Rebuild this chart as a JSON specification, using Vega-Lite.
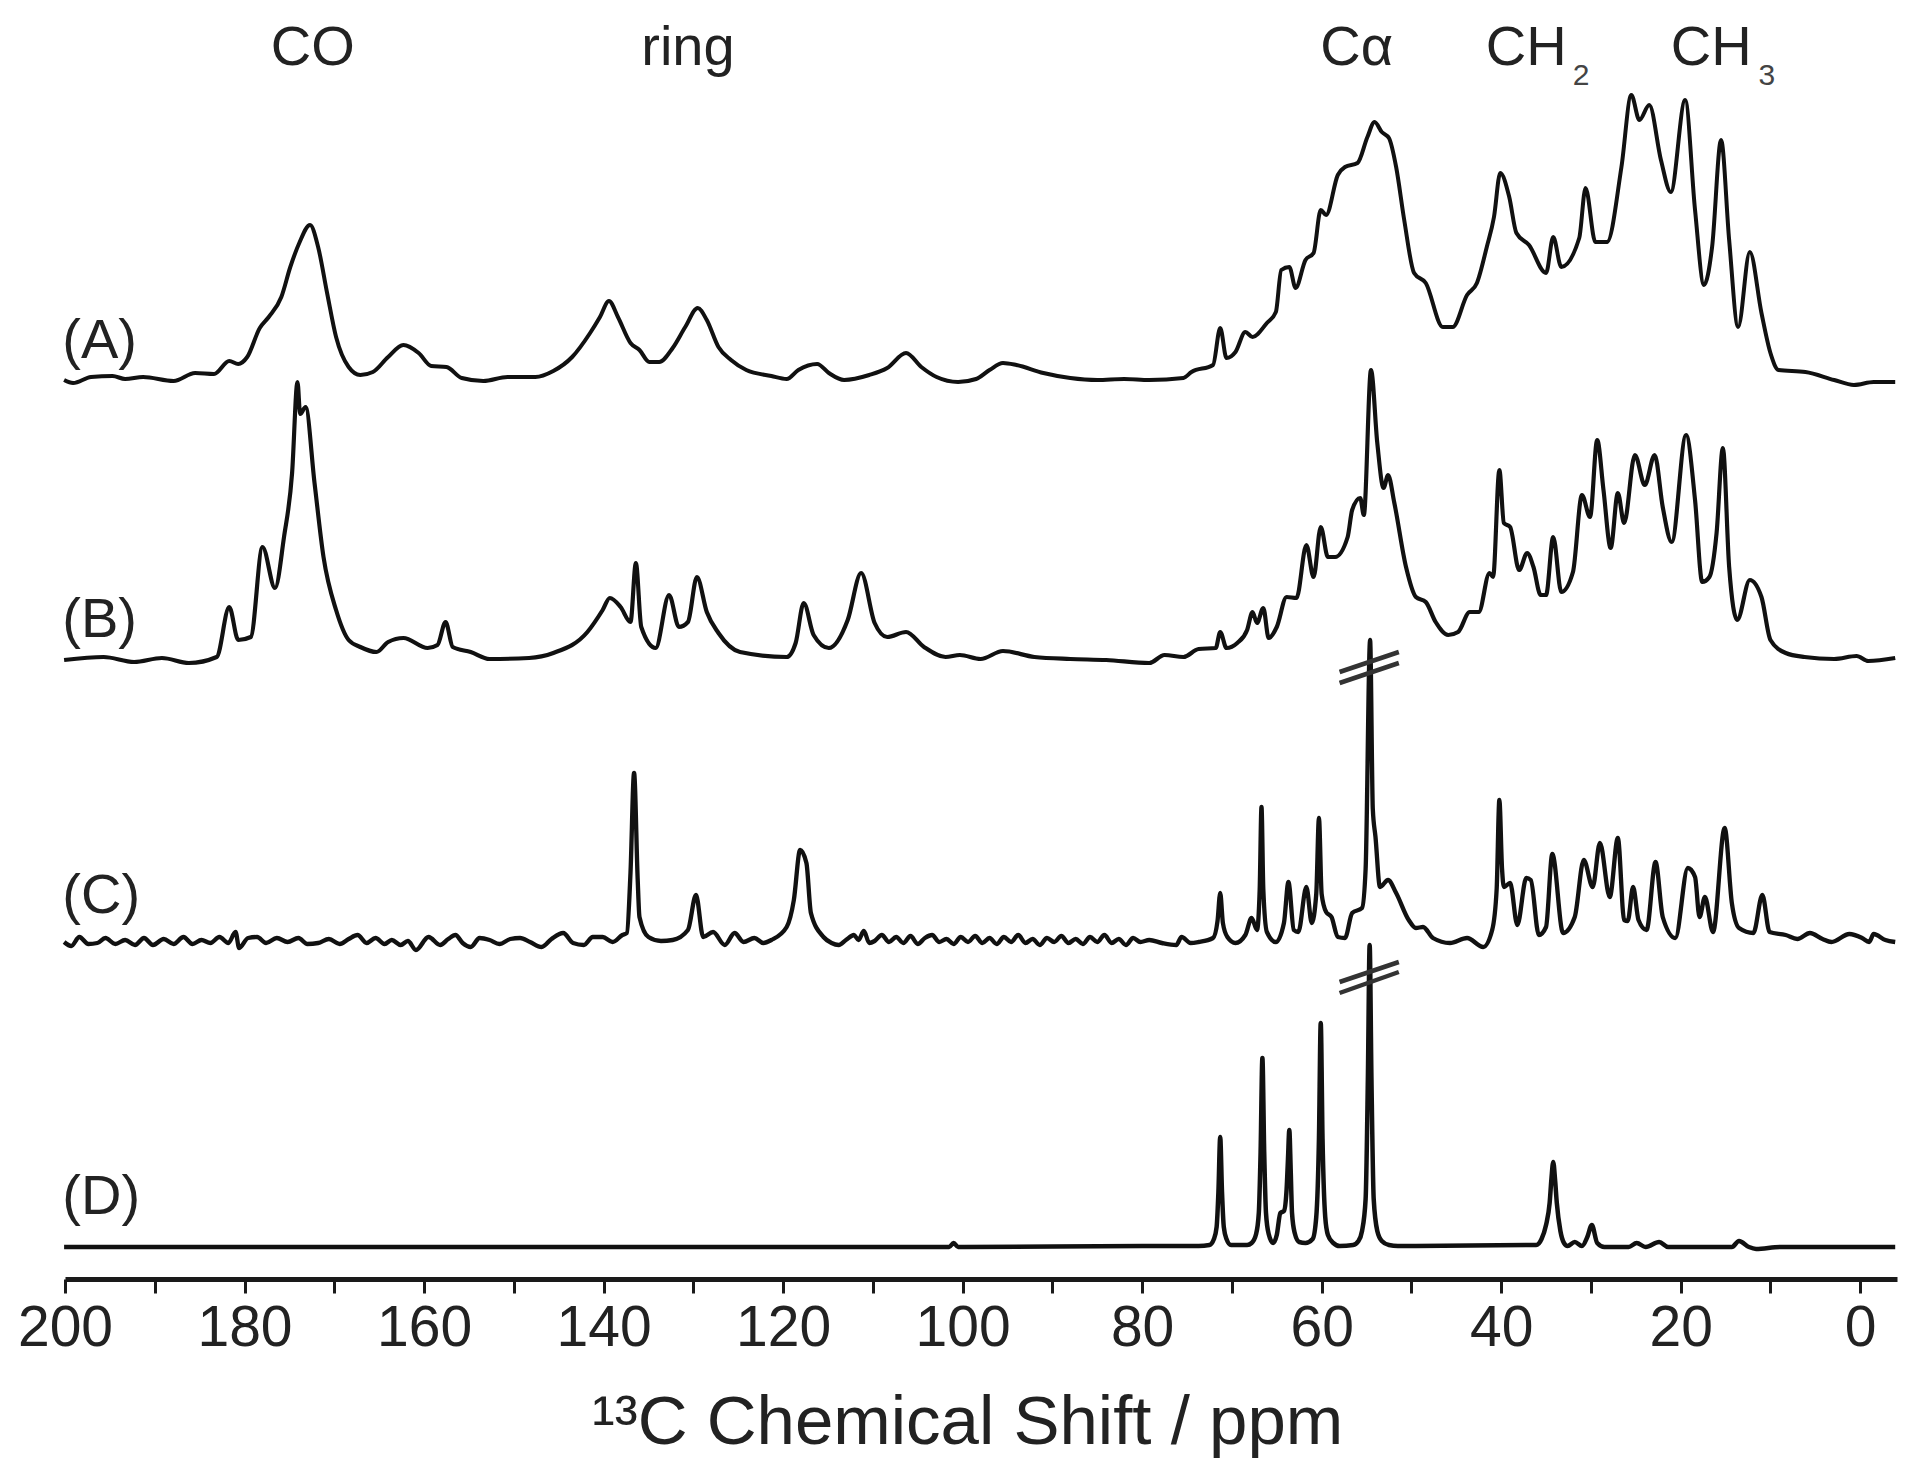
{
  "$schema": "https://vega.github.io/schema/vega-lite/v6.json",
  "width": 1832,
  "height": 1279,
  "autosize": "none",
  "padding": {"left": 65, "top": 0, "right": 20, "bottom": 193},
  "background": "white",
  "view": {"stroke": null},
  "config": {"text": {"font": "Liberation Sans"}},
  "datasets": {
    "spectra": [
      {"spectrum":"A","ppm":200.1,"height":899},{"spectrum":"A","ppm":199.1,"height":896},{"spectrum":"A","ppm":197.1,"height":902},{"spectrum":"A","ppm":194.7,"height":903},{"spectrum":"A","ppm":193.3,"height":900},{"spectrum":"A","ppm":191.3,"height":902},{"spectrum":"A","ppm":187.9,"height":898},{"spectrum":"A","ppm":185.5,"height":906},{"spectrum":"A","ppm":183.4,"height":905},{"spectrum":"A","ppm":181.7,"height":918},{"spectrum":"A","ppm":180.7,"height":915},{"spectrum":"A","ppm":179.7,"height":922},{"spectrum":"A","ppm":178.3,"height":951},{"spectrum":"A","ppm":177.3,"height":962},{"spectrum":"A","ppm":175.9,"height":982},{"spectrum":"A","ppm":174.9,"height":1012},{"spectrum":"A","ppm":173.9,"height":1036},{"spectrum":"A","ppm":172.7,"height":1054},{"spectrum":"A","ppm":171.8,"height":1032},{"spectrum":"A","ppm":170.8,"height":986},{"spectrum":"A","ppm":169.8,"height":942},{"spectrum":"A","ppm":168.4,"height":912},{"spectrum":"A","ppm":167.1,"height":904},{"spectrum":"A","ppm":165.7,"height":907},{"spectrum":"A","ppm":164,"height":922},{"spectrum":"A","ppm":162.3,"height":934},{"spectrum":"A","ppm":160.6,"height":926},{"spectrum":"A","ppm":159.2,"height":913},{"spectrum":"A","ppm":157.5,"height":912},{"spectrum":"A","ppm":155.8,"height":901},{"spectrum":"A","ppm":153.4,"height":898},{"spectrum":"A","ppm":150.7,"height":902},{"spectrum":"A","ppm":147.6,"height":902},{"spectrum":"A","ppm":145.6,"height":908},{"spectrum":"A","ppm":143.5,"height":922},{"spectrum":"A","ppm":141.5,"height":946},{"spectrum":"A","ppm":140.4,"height":962},{"spectrum":"A","ppm":139.4,"height":978},{"spectrum":"A","ppm":138.4,"height":962},{"spectrum":"A","ppm":137,"height":936},{"spectrum":"A","ppm":136,"height":929},{"spectrum":"A","ppm":134.9,"height":917},{"spectrum":"A","ppm":133.8,"height":917},{"spectrum":"A","ppm":132.3,"height":931},{"spectrum":"A","ppm":130.9,"height":952},{"spectrum":"A","ppm":129.5,"height":971},{"spectrum":"A","ppm":128.5,"height":959},{"spectrum":"A","ppm":127.2,"height":932},{"spectrum":"A","ppm":125.8,"height":919},{"spectrum":"A","ppm":124.1,"height":909},{"spectrum":"A","ppm":121.3,"height":903},{"spectrum":"A","ppm":119.6,"height":900},{"spectrum":"A","ppm":118.3,"height":909},{"spectrum":"A","ppm":116.2,"height":915},{"spectrum":"A","ppm":114.9,"height":906},{"spectrum":"A","ppm":113.2,"height":899},{"spectrum":"A","ppm":110.4,"height":904},{"spectrum":"A","ppm":108.4,"height":911},{"spectrum":"A","ppm":106.3,"height":926},{"spectrum":"A","ppm":104.6,"height":912},{"spectrum":"A","ppm":102.9,"height":902},{"spectrum":"A","ppm":100.5,"height":897},{"spectrum":"A","ppm":98.5,"height":900},{"spectrum":"A","ppm":97,"height":909},{"spectrum":"A","ppm":95.5,"height":916},{"spectrum":"A","ppm":94,"height":914},{"spectrum":"A","ppm":91,"height":906},{"spectrum":"A","ppm":88,"height":901},{"spectrum":"A","ppm":85,"height":899},{"spectrum":"A","ppm":82,"height":900},{"spectrum":"A","ppm":79.2,"height":899},{"spectrum":"A","ppm":75.4,"height":901},{"spectrum":"A","ppm":74.5,"height":907},{"spectrum":"A","ppm":72.1,"height":914},{"spectrum":"A","ppm":71.3,"height":951},{"spectrum":"A","ppm":70.6,"height":921},{"spectrum":"A","ppm":69.6,"height":927},{"spectrum":"A","ppm":68.5,"height":947},{"spectrum":"A","ppm":67.7,"height":942},{"spectrum":"A","ppm":66.1,"height":956},{"spectrum":"A","ppm":65.1,"height":967},{"spectrum":"A","ppm":64.5,"height":1009},{"spectrum":"A","ppm":63.6,"height":1012},{"spectrum":"A","ppm":62.9,"height":991},{"spectrum":"A","ppm":61.8,"height":1019},{"spectrum":"A","ppm":60.9,"height":1026},{"spectrum":"A","ppm":60.1,"height":1069},{"spectrum":"A","ppm":59.5,"height":1064},{"spectrum":"A","ppm":58.2,"height":1104},{"spectrum":"A","ppm":57.4,"height":1112},{"spectrum":"A","ppm":56,"height":1116},{"spectrum":"A","ppm":54.9,"height":1142},{"spectrum":"A","ppm":54.1,"height":1157},{"spectrum":"A","ppm":53.3,"height":1147},{"spectrum":"A","ppm":52.5,"height":1141},{"spectrum":"A","ppm":51.7,"height":1112},{"spectrum":"A","ppm":50.8,"height":1059},{"spectrum":"A","ppm":49.7,"height":1006},{"spectrum":"A","ppm":48.4,"height":996},{"spectrum":"A","ppm":46.5,"height":952},{"spectrum":"A","ppm":45.4,"height":952},{"spectrum":"A","ppm":43.8,"height":984},{"spectrum":"A","ppm":42.7,"height":996},{"spectrum":"A","ppm":41.6,"height":1032},{"spectrum":"A","ppm":40.8,"height":1062},{"spectrum":"A","ppm":40.1,"height":1106},{"spectrum":"A","ppm":39.1,"height":1082},{"spectrum":"A","ppm":38.3,"height":1046},{"spectrum":"A","ppm":36.9,"height":1034},{"spectrum":"A","ppm":35,"height":1006},{"spectrum":"A","ppm":34.2,"height":1042},{"spectrum":"A","ppm":33.3,"height":1012},{"spectrum":"A","ppm":31.3,"height":1041},{"spectrum":"A","ppm":30.6,"height":1091},{"spectrum":"A","ppm":29.5,"height":1037},{"spectrum":"A","ppm":28.2,"height":1037},{"spectrum":"A","ppm":26.6,"height":1112},{"spectrum":"A","ppm":25.5,"height":1184},{"spectrum":"A","ppm":24.6,"height":1159},{"spectrum":"A","ppm":23.5,"height":1174},{"spectrum":"A","ppm":22.2,"height":1119},{"spectrum":"A","ppm":21.1,"height":1087},{"spectrum":"A","ppm":19.5,"height":1179},{"spectrum":"A","ppm":18.4,"height":1069},{"spectrum":"A","ppm":17.4,"height":994},{"spectrum":"A","ppm":16.5,"height":1032},{"spectrum":"A","ppm":15.5,"height":1139},{"spectrum":"A","ppm":14.6,"height":1039},{"spectrum":"A","ppm":13.6,"height":952},{"spectrum":"A","ppm":12.3,"height":1027},{"spectrum":"A","ppm":11,"height":966},{"spectrum":"A","ppm":10,"height":926},{"spectrum":"A","ppm":9.1,"height":909},{"spectrum":"A","ppm":6.1,"height":907},{"spectrum":"A","ppm":2.9,"height":899},{"spectrum":"A","ppm":0.7,"height":894},{"spectrum":"A","ppm":-1.5,"height":897},{"spectrum":"A","ppm":-3.9,"height":897},

      {"spectrum":"B","ppm":200.1,"height":619},{"spectrum":"B","ppm":195.7,"height":622},{"spectrum":"B","ppm":192.3,"height":617},{"spectrum":"B","ppm":189.2,"height":621},{"spectrum":"B","ppm":186.2,"height":616},{"spectrum":"B","ppm":183.1,"height":622},{"spectrum":"B","ppm":181.7,"height":672},{"spectrum":"B","ppm":180.7,"height":639},{"spectrum":"B","ppm":179.3,"height":642},{"spectrum":"B","ppm":178,"height":732},{"spectrum":"B","ppm":176.6,"height":691},{"spectrum":"B","ppm":175.6,"height":742},{"spectrum":"B","ppm":174.7,"height":806},{"spectrum":"B","ppm":174.1,"height":897},{"spectrum":"B","ppm":173.8,"height":865},{"spectrum":"B","ppm":173.2,"height":872},{"spectrum":"B","ppm":172.2,"height":796},{"spectrum":"B","ppm":171.2,"height":722},{"spectrum":"B","ppm":169.8,"height":669},{"spectrum":"B","ppm":168.4,"height":639},{"spectrum":"B","ppm":167.1,"height":632},{"spectrum":"B","ppm":165.3,"height":627},{"spectrum":"B","ppm":164,"height":637},{"spectrum":"B","ppm":162.3,"height":641},{"spectrum":"B","ppm":159.6,"height":631},{"spectrum":"B","ppm":158.5,"height":634},{"spectrum":"B","ppm":157.6,"height":657},{"spectrum":"B","ppm":156.8,"height":632},{"spectrum":"B","ppm":154.8,"height":627},{"spectrum":"B","ppm":152.7,"height":620},{"spectrum":"B","ppm":148.3,"height":621},{"spectrum":"B","ppm":145.6,"height":626},{"spectrum":"B","ppm":141.8,"height":647},{"spectrum":"B","ppm":140.1,"height":669},{"spectrum":"B","ppm":139.3,"height":681},{"spectrum":"B","ppm":138.1,"height":672},{"spectrum":"B","ppm":137,"height":657},{"spectrum":"B","ppm":136.4,"height":716},{"spectrum":"B","ppm":135.8,"height":652},{"spectrum":"B","ppm":134.2,"height":631},{"spectrum":"B","ppm":132.7,"height":684},{"spectrum":"B","ppm":131.6,"height":652},{"spectrum":"B","ppm":130.6,"height":657},{"spectrum":"B","ppm":129.6,"height":702},{"spectrum":"B","ppm":128.5,"height":667},{"spectrum":"B","ppm":127.2,"height":646},{"spectrum":"B","ppm":124.8,"height":627},{"spectrum":"B","ppm":119.6,"height":622},{"spectrum":"B","ppm":118.6,"height":636},{"spectrum":"B","ppm":117.7,"height":676},{"spectrum":"B","ppm":116.6,"height":644},{"spectrum":"B","ppm":114.9,"height":631},{"spectrum":"B","ppm":112.8,"height":659},{"spectrum":"B","ppm":111.3,"height":706},{"spectrum":"B","ppm":109.8,"height":656},{"spectrum":"B","ppm":108.4,"height":642},{"spectrum":"B","ppm":106.3,"height":647},{"spectrum":"B","ppm":104.3,"height":632},{"spectrum":"B","ppm":101.9,"height":622},{"spectrum":"B","ppm":100.3,"height":624},{"spectrum":"B","ppm":98,"height":620},{"spectrum":"B","ppm":95.5,"height":628},{"spectrum":"B","ppm":92,"height":622},{"spectrum":"B","ppm":88,"height":620},{"spectrum":"B","ppm":84,"height":619},{"spectrum":"B","ppm":79.2,"height":616},{"spectrum":"B","ppm":77.5,"height":624},{"spectrum":"B","ppm":75.4,"height":622},{"spectrum":"B","ppm":73.7,"height":630},{"spectrum":"B","ppm":71.8,"height":631},{"spectrum":"B","ppm":71.3,"height":647},{"spectrum":"B","ppm":70.6,"height":631},{"spectrum":"B","ppm":69.4,"height":636},{"spectrum":"B","ppm":68.3,"height":649},{"spectrum":"B","ppm":67.7,"height":667},{"spectrum":"B","ppm":67.2,"height":656},{"spectrum":"B","ppm":66.5,"height":671},{"spectrum":"B","ppm":65.9,"height":641},{"spectrum":"B","ppm":65,"height":652},{"spectrum":"B","ppm":63.9,"height":682},{"spectrum":"B","ppm":62.8,"height":681},{"spectrum":"B","ppm":61.7,"height":734},{"spectrum":"B","ppm":60.9,"height":702},{"spectrum":"B","ppm":60.1,"height":752},{"spectrum":"B","ppm":59.3,"height":722},{"spectrum":"B","ppm":58.5,"height":722},{"spectrum":"B","ppm":57.1,"height":742},{"spectrum":"B","ppm":56.6,"height":769},{"spectrum":"B","ppm":55.7,"height":781},{"spectrum":"B","ppm":55.3,"height":764},{"spectrum":"B","ppm":54.5,"height":909},{"spectrum":"B","ppm":53.8,"height":836},{"spectrum":"B","ppm":53.1,"height":791},{"spectrum":"B","ppm":52.6,"height":804},{"spectrum":"B","ppm":51.9,"height":776},{"spectrum":"B","ppm":50.6,"height":712},{"spectrum":"B","ppm":49.5,"height":682},{"spectrum":"B","ppm":48.4,"height":677},{"spectrum":"B","ppm":47.3,"height":657},{"spectrum":"B","ppm":45.9,"height":644},{"spectrum":"B","ppm":44.8,"height":647},{"spectrum":"B","ppm":43.5,"height":667},{"spectrum":"B","ppm":42.5,"height":667},{"spectrum":"B","ppm":41.3,"height":706},{"spectrum":"B","ppm":40.9,"height":702},{"spectrum":"B","ppm":40.2,"height":809},{"spectrum":"B","ppm":39.7,"height":756},{"spectrum":"B","ppm":39,"height":752},{"spectrum":"B","ppm":38,"height":709},{"spectrum":"B","ppm":37.1,"height":726},{"spectrum":"B","ppm":36.4,"height":712},{"spectrum":"B","ppm":35.6,"height":684},{"spectrum":"B","ppm":35,"height":684},{"spectrum":"B","ppm":34.2,"height":742},{"spectrum":"B","ppm":33.3,"height":687},{"spectrum":"B","ppm":32,"height":707},{"spectrum":"B","ppm":31,"height":784},{"spectrum":"B","ppm":30.1,"height":762},{"spectrum":"B","ppm":29.3,"height":839},{"spectrum":"B","ppm":28.6,"height":789},{"spectrum":"B","ppm":27.8,"height":731},{"spectrum":"B","ppm":27,"height":786},{"spectrum":"B","ppm":26.3,"height":756},{"spectrum":"B","ppm":25.1,"height":824},{"spectrum":"B","ppm":24,"height":794},{"spectrum":"B","ppm":22.9,"height":824},{"spectrum":"B","ppm":22,"height":772},{"spectrum":"B","ppm":21,"height":737},{"spectrum":"B","ppm":19.4,"height":844},{"spectrum":"B","ppm":18.4,"height":779},{"spectrum":"B","ppm":17.6,"height":697},{"spectrum":"B","ppm":16.8,"height":702},{"spectrum":"B","ppm":16,"height":746},{"spectrum":"B","ppm":15.3,"height":831},{"spectrum":"B","ppm":14.6,"height":712},{"spectrum":"B","ppm":13.7,"height":659},{"spectrum":"B","ppm":12.3,"height":699},{"spectrum":"B","ppm":11,"height":682},{"spectrum":"B","ppm":10,"height":639},{"spectrum":"B","ppm":8.3,"height":626},{"spectrum":"B","ppm":6.2,"height":622},{"spectrum":"B","ppm":2.9,"height":620},{"spectrum":"B","ppm":0.4,"height":623},{"spectrum":"B","ppm":-0.9,"height":618},{"spectrum":"B","ppm":-3.9,"height":621},

      {"spectrum":"C","ppm":200.1,"height":337},{"spectrum":"C","ppm":199.3,"height":333},{"spectrum":"C","ppm":198.4,"height":342},{"spectrum":"C","ppm":197.4,"height":335},{"spectrum":"C","ppm":196.4,"height":336},{"spectrum":"C","ppm":195.5,"height":341},{"spectrum":"C","ppm":194.4,"height":335},{"spectrum":"C","ppm":193.3,"height":339},{"spectrum":"C","ppm":192.2,"height":334},{"spectrum":"C","ppm":191.2,"height":341},{"spectrum":"C","ppm":190.2,"height":334},{"spectrum":"C","ppm":189,"height":340},{"spectrum":"C","ppm":187.9,"height":335},{"spectrum":"C","ppm":186.8,"height":342},{"spectrum":"C","ppm":185.8,"height":335},{"spectrum":"C","ppm":184.8,"height":339},{"spectrum":"C","ppm":183.8,"height":336},{"spectrum":"C","ppm":182.8,"height":342},{"spectrum":"C","ppm":181.8,"height":336},{"spectrum":"C","ppm":181,"height":347},{"spectrum":"C","ppm":180.6,"height":331},{"spectrum":"C","ppm":179.6,"height":341},{"spectrum":"C","ppm":178.6,"height":342},{"spectrum":"C","ppm":177.6,"height":336},{"spectrum":"C","ppm":176.4,"height":341},{"spectrum":"C","ppm":175.2,"height":337},{"spectrum":"C","ppm":174,"height":341},{"spectrum":"C","ppm":173,"height":335},{"spectrum":"C","ppm":171.8,"height":336},{"spectrum":"C","ppm":170.6,"height":340},{"spectrum":"C","ppm":169.4,"height":335},{"spectrum":"C","ppm":168.4,"height":340},{"spectrum":"C","ppm":167.4,"height":344},{"spectrum":"C","ppm":166.4,"height":336},{"spectrum":"C","ppm":165.4,"height":341},{"spectrum":"C","ppm":164.4,"height":335},{"spectrum":"C","ppm":163.6,"height":339},{"spectrum":"C","ppm":162.6,"height":334},{"spectrum":"C","ppm":161.8,"height":338},{"spectrum":"C","ppm":160.9,"height":329},{"spectrum":"C","ppm":159.5,"height":342},{"spectrum":"C","ppm":158.2,"height":334},{"spectrum":"C","ppm":157.3,"height":340},{"spectrum":"C","ppm":156.5,"height":344},{"spectrum":"C","ppm":155.7,"height":336},{"spectrum":"C","ppm":154.8,"height":332},{"spectrum":"C","ppm":153.8,"height":341},{"spectrum":"C","ppm":152.7,"height":339},{"spectrum":"C","ppm":151.6,"height":335},{"spectrum":"C","ppm":150.4,"height":340},{"spectrum":"C","ppm":149.3,"height":341},{"spectrum":"C","ppm":148.2,"height":337},{"spectrum":"C","ppm":146.9,"height":332},{"spectrum":"C","ppm":145.8,"height":340},{"spectrum":"C","ppm":144.5,"height":346},{"spectrum":"C","ppm":143.4,"height":336},{"spectrum":"C","ppm":142.2,"height":334},{"spectrum":"C","ppm":141.2,"height":342},{"spectrum":"C","ppm":140.1,"height":342},{"spectrum":"C","ppm":139,"height":337},{"spectrum":"C","ppm":137.9,"height":344},{"spectrum":"C","ppm":137.4,"height":346},{"spectrum":"C","ppm":137,"height":406},{"spectrum":"C","ppm":136.6,"height":506},{"spectrum":"C","ppm":136.2,"height":400},{"spectrum":"C","ppm":136,"height":362},{"spectrum":"C","ppm":135,"height":342},{"spectrum":"C","ppm":133.6,"height":338},{"spectrum":"C","ppm":132.3,"height":339},{"spectrum":"C","ppm":130.6,"height":349},{"spectrum":"C","ppm":129.7,"height":384},{"spectrum":"C","ppm":128.9,"height":342},{"spectrum":"C","ppm":127.8,"height":347},{"spectrum":"C","ppm":126.5,"height":334},{"spectrum":"C","ppm":125.4,"height":346},{"spectrum":"C","ppm":124.4,"height":337},{"spectrum":"C","ppm":123.2,"height":341},{"spectrum":"C","ppm":122.2,"height":336},{"spectrum":"C","ppm":121.3,"height":339},{"spectrum":"C","ppm":119.6,"height":352},{"spectrum":"C","ppm":118.8,"height":379},{"spectrum":"C","ppm":118.1,"height":429},{"spectrum":"C","ppm":117.4,"height":416},{"spectrum":"C","ppm":116.9,"height":366},{"spectrum":"C","ppm":115.5,"height":342},{"spectrum":"C","ppm":114.6,"height":336},{"spectrum":"C","ppm":113.8,"height":334},{"spectrum":"C","ppm":113,"height":339},{"spectrum":"C","ppm":112.1,"height":344},{"spectrum":"C","ppm":111.6,"height":339},{"spectrum":"C","ppm":111,"height":348},{"spectrum":"C","ppm":110.4,"height":336},{"spectrum":"C","ppm":109.8,"height":338},{"spectrum":"C","ppm":109,"height":344},{"spectrum":"C","ppm":108.2,"height":337},{"spectrum":"C","ppm":107.4,"height":342},{"spectrum":"C","ppm":106.6,"height":336},{"spectrum":"C","ppm":105.8,"height":343},{"spectrum":"C","ppm":105,"height":335},{"spectrum":"C","ppm":104.2,"height":341},{"spectrum":"C","ppm":103.4,"height":344},{"spectrum":"C","ppm":102.6,"height":337},{"spectrum":"C","ppm":101.8,"height":340},{"spectrum":"C","ppm":101,"height":335},{"spectrum":"C","ppm":100.2,"height":342},{"spectrum":"C","ppm":99.4,"height":337},{"spectrum":"C","ppm":98.6,"height":343},{"spectrum":"C","ppm":97.8,"height":336},{"spectrum":"C","ppm":97,"height":341},{"spectrum":"C","ppm":96.2,"height":335},{"spectrum":"C","ppm":95.4,"height":342},{"spectrum":"C","ppm":94.6,"height":337},{"spectrum":"C","ppm":93.8,"height":344},{"spectrum":"C","ppm":93,"height":336},{"spectrum":"C","ppm":92.2,"height":340},{"spectrum":"C","ppm":91.4,"height":334},{"spectrum":"C","ppm":90.6,"height":341},{"spectrum":"C","ppm":89.8,"height":337},{"spectrum":"C","ppm":89,"height":343},{"spectrum":"C","ppm":88.2,"height":336},{"spectrum":"C","ppm":87.4,"height":340},{"spectrum":"C","ppm":86.6,"height":335},{"spectrum":"C","ppm":85.8,"height":342},{"spectrum":"C","ppm":85,"height":337},{"spectrum":"C","ppm":84.2,"height":344},{"spectrum":"C","ppm":83.4,"height":336},{"spectrum":"C","ppm":82.6,"height":340},{"spectrum":"C","ppm":81.8,"height":334},{"spectrum":"C","ppm":81,"height":341},{"spectrum":"C","ppm":80.2,"height":337},{"spectrum":"C","ppm":79.2,"height":339},{"spectrum":"C","ppm":77.8,"height":336},{"spectrum":"C","ppm":76.2,"height":334},{"spectrum":"C","ppm":75.6,"height":342},{"spectrum":"C","ppm":74.6,"height":336},{"spectrum":"C","ppm":73.7,"height":337},{"spectrum":"C","ppm":72.1,"height":341},{"spectrum":"C","ppm":71.6,"height":358},{"spectrum":"C","ppm":71.3,"height":386},{"spectrum":"C","ppm":71,"height":356},{"spectrum":"C","ppm":70.5,"height":342},{"spectrum":"C","ppm":69.6,"height":336},{"spectrum":"C","ppm":68.5,"height":344},{"spectrum":"C","ppm":67.8,"height":361},{"spectrum":"C","ppm":67.2,"height":349},{"spectrum":"C","ppm":66.9,"height":390},{"spectrum":"C","ppm":66.7,"height":472},{"spectrum":"C","ppm":66.5,"height":390},{"spectrum":"C","ppm":66.1,"height":347},{"spectrum":"C","ppm":65.1,"height":337},{"spectrum":"C","ppm":64.2,"height":356},{"spectrum":"C","ppm":63.7,"height":397},{"spectrum":"C","ppm":63.1,"height":349},{"spectrum":"C","ppm":62.6,"height":347},{"spectrum":"C","ppm":61.7,"height":392},{"spectrum":"C","ppm":61.1,"height":356},{"spectrum":"C","ppm":60.6,"height":385},{"spectrum":"C","ppm":60.3,"height":461},{"spectrum":"C","ppm":60,"height":385},{"spectrum":"C","ppm":59.5,"height":367},{"spectrum":"C","ppm":58.9,"height":362},{"spectrum":"C","ppm":58.2,"height":342},{"spectrum":"C","ppm":57.4,"height":341},{"spectrum":"C","ppm":56.6,"height":366},{"spectrum":"C","ppm":55.5,"height":371},{"spectrum":"C","ppm":55.1,"height":410},{"spectrum":"C","ppm":54.6,"height":639},{"spectrum":"C","ppm":54.3,"height":470},{"spectrum":"C","ppm":54,"height":442},{"spectrum":"C","ppm":53.5,"height":392},{"spectrum":"C","ppm":52.6,"height":399},{"spectrum":"C","ppm":51.7,"height":386},{"spectrum":"C","ppm":50.3,"height":359},{"spectrum":"C","ppm":49.5,"height":351},{"spectrum":"C","ppm":48.7,"height":352},{"spectrum":"C","ppm":47.6,"height":341},{"spectrum":"C","ppm":45.7,"height":336},{"spectrum":"C","ppm":43.8,"height":341},{"spectrum":"C","ppm":42,"height":332},{"spectrum":"C","ppm":41,"height":349},{"spectrum":"C","ppm":40.5,"height":390},{"spectrum":"C","ppm":40.2,"height":479},{"spectrum":"C","ppm":39.9,"height":410},{"spectrum":"C","ppm":39.7,"height":392},{"spectrum":"C","ppm":39,"height":396},{"spectrum":"C","ppm":38.2,"height":354},{"spectrum":"C","ppm":37.2,"height":401},{"spectrum":"C","ppm":36.7,"height":399},{"spectrum":"C","ppm":35.8,"height":344},{"spectrum":"C","ppm":35,"height":352},{"spectrum":"C","ppm":34.3,"height":425},{"spectrum":"C","ppm":33.1,"height":346},{"spectrum":"C","ppm":31.8,"height":362},{"spectrum":"C","ppm":30.8,"height":419},{"spectrum":"C","ppm":29.8,"height":392},{"spectrum":"C","ppm":29,"height":436},{"spectrum":"C","ppm":27.9,"height":382},{"spectrum":"C","ppm":27,"height":441},{"spectrum":"C","ppm":26.3,"height":359},{"spectrum":"C","ppm":25.9,"height":358},{"spectrum":"C","ppm":25.3,"height":392},{"spectrum":"C","ppm":24.7,"height":359},{"spectrum":"C","ppm":23.8,"height":349},{"spectrum":"C","ppm":22.8,"height":417},{"spectrum":"C","ppm":22,"height":362},{"spectrum":"C","ppm":20.6,"height":341},{"spectrum":"C","ppm":19.2,"height":411},{"spectrum":"C","ppm":18.4,"height":402},{"spectrum":"C","ppm":17.9,"height":362},{"spectrum":"C","ppm":17.3,"height":382},{"spectrum":"C","ppm":16.4,"height":347},{"spectrum":"C","ppm":15.1,"height":451},{"spectrum":"C","ppm":14.3,"height":376},{"spectrum":"C","ppm":13.5,"height":351},{"spectrum":"C","ppm":11.9,"height":346},{"spectrum":"C","ppm":10.9,"height":384},{"spectrum":"C","ppm":10.1,"height":347},{"spectrum":"C","ppm":8.3,"height":344},{"spectrum":"C","ppm":7,"height":340},{"spectrum":"C","ppm":5.6,"height":346},{"spectrum":"C","ppm":4.2,"height":340},{"spectrum":"C","ppm":3.2,"height":337},{"spectrum":"C","ppm":1.2,"height":345},{"spectrum":"C","ppm":-0.2,"height":341},{"spectrum":"C","ppm":-1,"height":337},{"spectrum":"C","ppm":-1.5,"height":345},{"spectrum":"C","ppm":-2.8,"height":339},{"spectrum":"C","ppm":-3.9,"height":337},

      {"spectrum":"D","ppm":200.1,"height":32},{"spectrum":"D","ppm":160,"height":32},{"spectrum":"D","ppm":120,"height":32},{"spectrum":"D","ppm":101.5,"height":32},{"spectrum":"D","ppm":101,"height":36},{"spectrum":"D","ppm":100.5,"height":32},{"spectrum":"D","ppm":79.2,"height":33},{"spectrum":"D","ppm":73.7,"height":33},{"spectrum":"D","ppm":72.5,"height":34},{"spectrum":"D","ppm":72,"height":40},{"spectrum":"D","ppm":71.7,"height":52},{"spectrum":"D","ppm":71.5,"height":87},{"spectrum":"D","ppm":71.3,"height":142},{"spectrum":"D","ppm":71.1,"height":87},{"spectrum":"D","ppm":70.9,"height":52},{"spectrum":"D","ppm":70.6,"height":40},{"spectrum":"D","ppm":70.1,"height":34},{"spectrum":"D","ppm":68.3,"height":34},{"spectrum":"D","ppm":67.8,"height":36},{"spectrum":"D","ppm":67.3,"height":45},{"spectrum":"D","ppm":67,"height":66},{"spectrum":"D","ppm":66.8,"height":127},{"spectrum":"D","ppm":66.6,"height":221},{"spectrum":"D","ppm":66.4,"height":127},{"spectrum":"D","ppm":66.2,"height":66},{"spectrum":"D","ppm":65.9,"height":45},{"spectrum":"D","ppm":65.4,"height":36},{"spectrum":"D","ppm":65,"height":44},{"spectrum":"D","ppm":64.6,"height":66},{"spectrum":"D","ppm":64.2,"height":68},{"spectrum":"D","ppm":63.9,"height":90},{"spectrum":"D","ppm":63.75,"height":120},{"spectrum":"D","ppm":63.6,"height":149},{"spectrum":"D","ppm":63.45,"height":110},{"spectrum":"D","ppm":63.3,"height":66},{"spectrum":"D","ppm":63,"height":46},{"spectrum":"D","ppm":62.5,"height":37},{"spectrum":"D","ppm":61.8,"height":36},{"spectrum":"D","ppm":61,"height":40},{"spectrum":"D","ppm":60.6,"height":62},{"spectrum":"D","ppm":60.3,"height":140},{"spectrum":"D","ppm":60.1,"height":256},{"spectrum":"D","ppm":59.9,"height":140},{"spectrum":"D","ppm":59.6,"height":62},{"spectrum":"D","ppm":59.3,"height":44},{"spectrum":"D","ppm":58.7,"height":36},{"spectrum":"D","ppm":58,"height":33},{"spectrum":"D","ppm":56.5,"height":34},{"spectrum":"D","ppm":55.9,"height":38},{"spectrum":"D","ppm":55.5,"height":48},{"spectrum":"D","ppm":55.1,"height":80},{"spectrum":"D","ppm":54.85,"height":200},{"spectrum":"D","ppm":54.65,"height":334},{"spectrum":"D","ppm":54.45,"height":200},{"spectrum":"D","ppm":54.2,"height":80},{"spectrum":"D","ppm":53.8,"height":48},{"spectrum":"D","ppm":53.3,"height":38},{"spectrum":"D","ppm":52.5,"height":34},{"spectrum":"D","ppm":51.5,"height":33},{"spectrum":"D","ppm":36.1,"height":34},{"spectrum":"D","ppm":35.5,"height":40},{"spectrum":"D","ppm":35,"height":54},{"spectrum":"D","ppm":34.6,"height":76},{"spectrum":"D","ppm":34.4,"height":100},{"spectrum":"D","ppm":34.2,"height":117},{"spectrum":"D","ppm":34,"height":100},{"spectrum":"D","ppm":33.8,"height":76},{"spectrum":"D","ppm":33.4,"height":48},{"spectrum":"D","ppm":33,"height":36},{"spectrum":"D","ppm":32.6,"height":33},{"spectrum":"D","ppm":31.8,"height":37},{"spectrum":"D","ppm":31,"height":33},{"spectrum":"D","ppm":30.4,"height":42},{"spectrum":"D","ppm":29.9,"height":54},{"spectrum":"D","ppm":29.3,"height":36},{"spectrum":"D","ppm":28.5,"height":32},{"spectrum":"D","ppm":25.8,"height":32},{"spectrum":"D","ppm":24.9,"height":36},{"spectrum":"D","ppm":23.9,"height":32},{"spectrum":"D","ppm":22.4,"height":37},{"spectrum":"D","ppm":21.4,"height":32},{"spectrum":"D","ppm":14.3,"height":32},{"spectrum":"D","ppm":13.5,"height":38},{"spectrum":"D","ppm":12.4,"height":32},{"spectrum":"D","ppm":11.6,"height":30},{"spectrum":"D","ppm":8.9,"height":32},{"spectrum":"D","ppm":-3.9,"height":32}
    ],
    "breaks": [
      {"mark":"C1","ppm":58,"height":607},{"mark":"C1","ppm":51.4,"height":627},
      {"mark":"C2","ppm":58,"height":596},{"mark":"C2","ppm":51.4,"height":616},
      {"mark":"D1","ppm":58,"height":297},{"mark":"D1","ppm":51.4,"height":317},
      {"mark":"D2","ppm":58,"height":286},{"mark":"D2","ppm":51.4,"height":307}
    ],
    "regions": [
      {"label":"CO","ppm":172.4,"height":1214},
      {"label":"ring","ppm":130.6,"height":1214},
      {"label":"Cα","ppm":56.1,"height":1214},
      {"label":"CH","ppm":37.2,"height":1214},
      {"label":"CH","ppm":16.6,"height":1214}
    ],
    "subscripts": [
      {"label":"2","ppm":31.1,"height":1194},
      {"label":"3","ppm":10.4,"height":1194}
    ],
    "panels": [
      {"label":"(A)","ppm":200.3,"height":921},
      {"label":"(B)","ppm":200.3,"height":642},
      {"label":"(C)","ppm":200.3,"height":366},
      {"label":"(D)","ppm":200.3,"height":65}
    ]
  },
  "data": {"name": "spectra"},
  "encoding": {
    "x": {
      "field": "ppm",
      "type": "quantitative",
      "scale": {"domain": [200, -4.1], "nice": false, "zero": false},
      "axis": {
        "values": [200,190,180,170,160,150,140,130,120,110,100,90,80,70,60,50,40,30,20,10,0],
        "labelExpr": "datum.value % 20 === 0 ? datum.label : ''",
        "labelOverlap": false,
        "labelFlush": false,
        "grid": false,
        "domainColor": "#1a1a1a",
        "domainWidth": 5,
        "tickColor": "#1a1a1a",
        "tickWidth": 3,
        "tickSize": 14,
        "labelFont": "Liberation Sans",
        "labelFontSize": 57,
        "labelColor": "#222222",
        "labelPadding": 7,
        "title": "¹³C Chemical Shift / ppm",
        "titleFont": "Liberation Sans",
        "titleFontSize": 69,
        "titleFontWeight": "normal",
        "titleColor": "#222222",
        "titleAnchor": "start",
        "titleAlign": "center",
        "titleBaseline": "alphabetic",
        "titleX": 902,
        "titleY": 164
      }
    },
    "y": {
      "field": "height",
      "type": "quantitative",
      "scale": {"domain": [0, 1279], "nice": false},
      "axis": null
    }
  },
  "layer": [
    {
      "mark": {"type": "line", "color": "#111111", "strokeJoin": "round", "interpolate": "monotone"},
      "encoding": {
        "detail": {"field": "spectrum"},
        "strokeWidth": {
          "field": "spectrum",
          "scale": {"domain": ["A","B","C","D"], "range": [4, 4.5, 5.5, 4.5]},
          "legend": null
        }
      }
    },
    {
      "data": {"name": "breaks"},
      "mark": {"type": "line", "color": "#333333", "strokeWidth": 4.5},
      "encoding": {"detail": {"field": "mark"}}
    },
    {
      "data": {"name": "regions"},
      "mark": {"type": "text", "fontSize": 56, "align": "center", "baseline": "alphabetic", "color": "#222222"},
      "encoding": {"text": {"field": "label"}}
    },
    {
      "data": {"name": "subscripts"},
      "mark": {"type": "text", "fontSize": 30, "align": "center", "baseline": "alphabetic", "color": "#444444"},
      "encoding": {"text": {"field": "label"}}
    },
    {
      "data": {"name": "panels"},
      "mark": {"type": "text", "fontSize": 56, "align": "left", "baseline": "alphabetic", "color": "#222222"},
      "encoding": {"text": {"field": "label"}}
    }
  ]
}
